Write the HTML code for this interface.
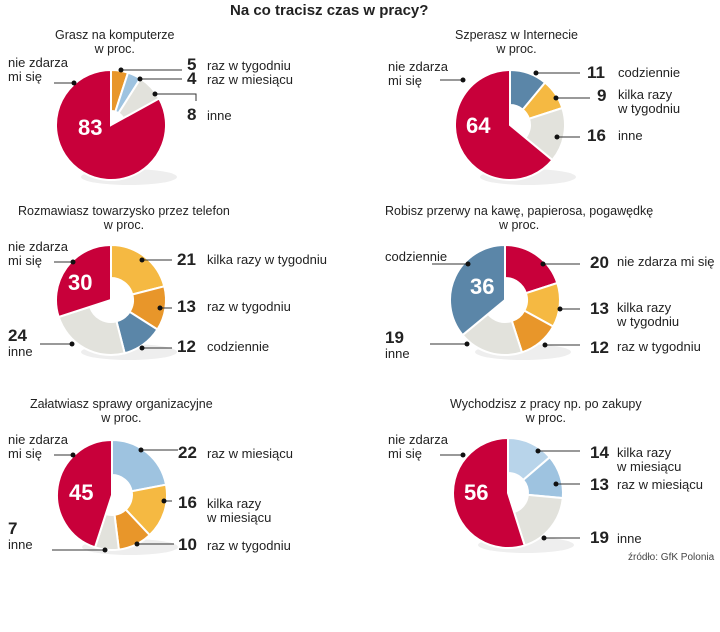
<!DOCTYPE html>
<html><head><meta charset="utf-8">
<style>
body{margin:0;background:#fff;width:720px;height:632px;overflow:hidden;font-family:"Liberation Sans",sans-serif;}
#wrap{position:relative;width:720px;height:632px;}
.t{position:absolute;font-size:13px;color:#222;line-height:14px;white-space:nowrap;}
.n{position:absolute;font-size:17px;font-weight:bold;color:#222;line-height:16px;}
.h{position:absolute;font-size:12.5px;color:#222;text-align:center;line-height:14px;}
svg{position:absolute;left:0;top:0;}
</style></head><body>
<div id="wrap">
<div class="h" style="left:230px;top:4px;font-size:15px;font-weight:bold;">Na co tracisz czas w pracy?</div>
<svg id="svg" width="720" height="632"></svg>
</div>
<script>
// Chart data (values in percent, clockwise from 12 o'clock)
const c1Values=[5,4,8,83];
const c1Labels=["raz w tygodniu","raz w miesiącu","inne","nie zdarza mi się"];
const c2Values=[11,9,16,64];
const c2Labels=["codziennie","kilka razy w tygodniu","inne","nie zdarza mi się"];
const c3Values=[21,13,12,24,30];
const c3Labels=["kilka razy w tygodniu","raz w tygodniu","codziennie","inne","nie zdarza mi się"];
const c4Values=[20,13,12,19,36];
const c4Labels=["nie zdarza mi się","kilka razy w tygodniu","raz w tygodniu","inne","codziennie"];
const c5Values=[22,16,10,7,45];
const c5Labels=["raz w miesiącu","kilka razy w miesiącu","raz w tygodniu","inne","nie zdarza mi się"];
const c6Values=[14,13,19,56];
const c6Labels=["kilka razy w miesiącu","raz w miesiącu","inne","nie zdarza mi się"];

const R="#c8003a",O="#e8962a",Y="#f5b942",B="#5b86a8",LB="#9ec3e0",LB2="#b8d4ea",G="#e2e2dc";
const NS="http://www.w3.org/2000/svg";
const svg=document.getElementById('svg');
const wrap=document.getElementById('wrap');

function pt(cx,cy,r,a){return [cx+r*Math.sin(a),cy-r*Math.cos(a)];}
function arcPath(cx,cy,r0,r1,a0,a1){
  const large=(a1-a0)>Math.PI?1:0;
  const p0=pt(cx,cy,r1,a0),p1=pt(cx,cy,r1,a1);
  if(r0<=0){return `M${cx},${cy}L${p0[0]},${p0[1]}A${r1},${r1} 0 ${large} 1 ${p1[0]},${p1[1]}Z`;}
  const q0=pt(cx,cy,r0,a1),q1=pt(cx,cy,r0,a0);
  return `M${p0[0]},${p0[1]}A${r1},${r1} 0 ${large} 1 ${p1[0]},${p1[1]}L${q0[0]},${q0[1]}A${r0},${r0} 0 ${large} 0 ${q1[0]},${q1[1]}Z`;
}
function div(cls,html,x,y,name,extra){
  const d=document.createElement('div');
  d.className=cls;d.innerHTML=html;d.style.left=x+'px';d.style.top=y+'px';
  if(extra)d.style.cssText+=extra;
  
  
  wrap.appendChild(d);
}
function line(pts,name){
  const p=document.createElementNS(NS,'polyline');
  p.setAttribute('points',pts.map(q=>q.join(',')).join(' '));
  p.setAttribute('fill','none');p.setAttribute('stroke','#333');p.setAttribute('stroke-width','1');
  
  
  svg.appendChild(p);
  const e=pts[0];
  const c=document.createElementNS(NS,'circle');
  c.setAttribute('cx',e[0]);c.setAttribute('cy',e[1]);c.setAttribute('r',2.5);c.setAttribute('fill','#111');
  
  
  svg.appendChild(c);
}
function chart(id,cx,cy,values,colors,inner,bigIdx){
  const tot=values.reduce((a,b)=>a+b,0);
  const sh=document.createElementNS(NS,'ellipse');
  sh.setAttribute('cx',cx+18);sh.setAttribute('cy',cy+52);sh.setAttribute('rx',48);sh.setAttribute('ry',8);
  sh.setAttribute('fill','#eee');
  
  
  svg.appendChild(sh);
  let a=0;const mids=[];
  values.forEach((v,i)=>{
    const a1=a+v/tot*2*Math.PI;
    const p=document.createElementNS(NS,'path');
    p.setAttribute('d',arcPath(cx,cy,i===bigIdx?0:inner,55,a,a1));
    p.setAttribute('fill',colors[i]);p.setAttribute('stroke','#fff');p.setAttribute('stroke-width','2');
    
    
    svg.appendChild(p);
    mids.push((a+a1)/2);
    a=a1;
  });
  return mids;
}

// Chart 1
div('h','Grasz na komputerze<br>w proc.',55,28,'chart1-title');
chart('chart1',111,125,c1Values,[O,LB,G,R],14,3);
div('n',c1Values[3],78,120,'chart1-big-value','color:#fff;font-size:22px;');
div('t','nie zdarza<br>mi się',8,56,'chart1-label-never');
line([[74,83],[54,83]],'chart1-leader-never');
div('n',c1Values[0],187,57,'chart1-value-0');div('t',c1Labels[0],207,59,'chart1-label-0');
line([[121,70],[182,70]],'chart1-leader-0');
div('n',c1Values[1],187,71,'chart1-value-1');div('t',c1Labels[1],207,73,'chart1-label-1');
line([[140,79],[182,79]],'chart1-leader-1');
div('n',c1Values[2],187,107,'chart1-value-2');div('t',c1Labels[2],207,109,'chart1-label-2');
line([[155,94],[196,94],[196,101]],'chart1-leader-2');

// Chart 2
div('h','Szperasz w Internecie<br>w proc.',455,28,'chart2-title');
chart('chart2',510,125,c2Values,[B,Y,G,R],20,3);
div('n',c2Values[3],466,118,'chart2-big-value','color:#fff;font-size:22px;');
div('t','nie zdarza<br>mi się',388,60,'chart2-label-never');
line([[463,80],[440,80]],'chart2-leader-never');
div('n',c2Values[0],587,65,'chart2-value-0');div('t',c2Labels[0],618,66,'chart2-label-0');
line([[536,73],[580,73]],'chart2-leader-0');
div('n',c2Values[1],597,88,'chart2-value-1');div('t','kilka razy<br>w tygodniu',618,88,'chart2-label-1');
line([[556,98],[590,98]],'chart2-leader-1');
div('n',c2Values[2],587,128,'chart2-value-2');div('t',c2Labels[2],618,129,'chart2-label-2');
line([[557,137],[580,137]],'chart2-leader-2');

// Chart 3
div('h','Rozmawiasz towarzysko przez telefon<br>w proc.',18,204,'chart3-title');
chart('chart3',111,300,c3Values,[Y,O,B,G,R],22,4);
div('n',c3Values[4],68,275,'chart3-big-value','color:#fff;font-size:22px;');
div('t','nie zdarza<br>mi się',8,240,'chart3-label-never');
line([[73,262],[54,262]],'chart3-leader-never');
div('n',c3Values[0],177,252,'chart3-value-0');div('t',c3Labels[0],207,253,'chart3-label-0');
line([[142,260],[172,260]],'chart3-leader-0');
div('n',c3Values[1],177,299,'chart3-value-1');div('t',c3Labels[1],207,300,'chart3-label-1');
line([[160,308],[172,308]],'chart3-leader-1');
div('n',c3Values[2],177,339,'chart3-value-2');div('t',c3Labels[2],207,340,'chart3-label-2');
line([[142,348],[172,348]],'chart3-leader-2');
div('n',c3Values[3],8,328,'chart3-value-3');div('t',c3Labels[3],8,345,'chart3-label-3');
line([[72,344],[40,344]],'chart3-leader-3');

// Chart 4
div('h','Robisz przerwy na kawę, papierosa, pogawędkę<br>w proc.',385,204,'chart4-title');
chart('chart4',505,300,c4Values,[R,Y,O,G,B],22,4);
div('n',c4Values[4],470,279,'chart4-big-value','color:#fff;font-size:22px;');
div('t',c4Labels[4],385,250,'chart4-label-4');
line([[468,264],[432,264]],'chart4-leader-4');
div('n',c4Values[0],590,255,'chart4-value-0');div('t',c4Labels[0],617,255,'chart4-label-0');
line([[543,264],[580,264]],'chart4-leader-0');
div('n',c4Values[1],590,301,'chart4-value-1');div('t','kilka razy<br>w tygodniu',617,301,'chart4-label-1');
line([[560,309],[580,309]],'chart4-leader-1');
div('n',c4Values[2],590,340,'chart4-value-2');div('t',c4Labels[2],617,340,'chart4-label-2');
line([[545,345],[580,345]],'chart4-leader-2');
div('n',c4Values[3],385,330,'chart4-value-3');div('t',c4Labels[3],385,347,'chart4-label-3');
line([[467,344],[430,344]],'chart4-leader-3');

// Chart 5
div('h','Załatwiasz sprawy organizacyjne<br>w proc.',30,397,'chart5-title');
chart('chart5',112,495,c5Values,[LB,Y,O,G,R],20,4);
div('n',c5Values[4],69,485,'chart5-big-value','color:#fff;font-size:22px;');
div('t','nie zdarza<br>mi się',8,433,'chart5-label-never');
line([[73,455],[54,455]],'chart5-leader-never');
div('n',c5Values[0],178,445,'chart5-value-0');div('t',c5Labels[0],207,447,'chart5-label-0');
line([[141,450],[178,450]],'chart5-leader-0');
div('n',c5Values[1],178,495,'chart5-value-1');div('t','kilka razy<br>w miesiącu',207,497,'chart5-label-1');
line([[164,501],[172,501]],'chart5-leader-1');
div('n',c5Values[2],178,537,'chart5-value-2');div('t',c5Labels[2],207,539,'chart5-label-2');
line([[137,544],[174,544]],'chart5-leader-2');
div('n',c5Values[3],8,521,'chart5-value-3');div('t',c5Labels[3],8,538,'chart5-label-3');
line([[105,550],[52,550]],'chart5-leader-3');

// Chart 6
div('h','Wychodzisz z pracy np. po zakupy<br>w proc.',450,397,'chart6-title');
chart('chart6',508,493,c6Values,[LB2,LB,G,R],20,3);
div('n',c6Values[3],464,485,'chart6-big-value','color:#fff;font-size:22px;');
div('t','nie zdarza<br>mi się',388,433,'chart6-label-never');
line([[463,455],[440,455]],'chart6-leader-never');
div('n',c6Values[0],590,445,'chart6-value-0');div('t','kilka razy<br>w miesiącu',617,446,'chart6-label-0');
line([[538,451],[580,451]],'chart6-leader-0');
div('n',c6Values[1],590,477,'chart6-value-1');div('t',c6Labels[1],617,478,'chart6-label-1');
line([[556,484],[580,484]],'chart6-leader-1');
div('n',c6Values[2],590,530,'chart6-value-2');div('t',c6Labels[2],617,532,'chart6-label-2');
line([[544,538],[580,538]],'chart6-leader-2');

div('t','źródło: GfK Polonia',628,551,'source-note','font-size:10px;color:#444;');
</script>
</body></html>
